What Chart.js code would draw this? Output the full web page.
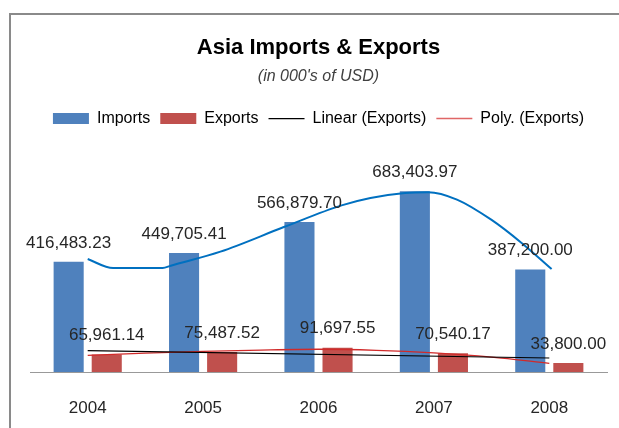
<!DOCTYPE html>
<html>
<head>
<meta charset="utf-8">
<script src="https://cdn.jsdelivr.net/npm/chart.js@4.4.1/dist/chart.umd.min.js"></script>
<style>
  body { margin: 0; background: #fff; }
  #frame { position: absolute; left: 9px; top: 13px; width: 640px; height: 440px; border: 2px solid #8a8a8a; }
  #wrap { position: absolute; left: 0; top: 0; width: 619px; height: 428px; }
</style>
</head>
<body>
<div id="frame"></div>
<div id="wrap"><canvas id="tradeChart"></canvas></div>
<script>
const years = ['2004', '2005', '2006', '2007', '2008'];
const imports = [416483.23, 449705.41, 566879.70, 683403.97, 387200.00];
const exports = [65961.14, 75487.52, 91697.55, 70540.17, 33800.00];

// trendlines (x = position of the year, 0 = 2004)
const importsPolyAt = [0, 0.22, 0.65, 0.72, 1.15, 1.7, 2.2, 2.45, 2.75, 2.95, 3.2, 3.5, 3.76, 4.02];
const importsPoly = [427000, 393000, 393000, 402000, 455000, 548000, 630000, 658000, 677000, 680000, 652000, 575000, 488000, 389000];
const exportsLinearAt = [0, 4];
const exportsLinear = [80500, 53000];
const exportsPolyAt = [0, 0.5, 1, 1.5, 2, 2.5, 3, 3.5, 4];
const exportsPoly = [63000, 71000, 78000, 83000, 86000, 82000, 72000, 56000, 33000];

const blue = '#4f81bd';
const red = '#c0504d';
const font = '"Liberation Sans", Arial, sans-serif';

const pts = (xs, ys) => xs.map((x, i) => ({ x: x, y: ys[i] }));
const yearIdx = years.map((y, i) => i);

const valueLabels = {
    id: 'valueLabels',
    afterDatasetsDraw(chart) {
        const ctx = chart.ctx;
        ctx.save();
        ctx.font = '17px ' + font;
        ctx.fillStyle = '#262626';
        ctx.textAlign = 'center';
        ctx.textBaseline = 'middle';
        [imports, exports].forEach((vals, i) => {
            chart.getDatasetMeta(i).data.forEach((bar, j) => {
                const txt = vals[j].toLocaleString('en-US', { minimumFractionDigits: 2, maximumFractionDigits: 2 });
                ctx.fillText(txt, bar.x, bar.y - 19);
            });
        });
        ctx.restore();
    }
};

const trend = { type: 'line', pointRadius: 0, order: 0 };

const ctx = document.getElementById('tradeChart').getContext('2d');
const chart = new Chart(ctx, {
    type: 'bar',
    data: {
        datasets: [
            { label: 'Imports', data: pts(yearIdx, imports), backgroundColor: blue, order: 2,
              categoryPercentage: 0.66, barPercentage: 0.79 },
            { label: 'Exports', data: pts(yearIdx, exports), backgroundColor: red, order: 2,
              categoryPercentage: 0.66, barPercentage: 0.79 },
            { ...trend, label: 'Poly. (Imports)', data: pts(importsPolyAt, importsPoly),
              borderColor: '#0070c0', borderWidth: 2, cubicInterpolationMode: 'monotone' },
            { ...trend, label: 'Linear (Exports)', data: pts(exportsLinearAt, exportsLinear),
              borderColor: '#000000', borderWidth: 1.2 },
            { ...trend, label: 'Poly. (Exports)', data: pts(exportsPolyAt, exportsPoly),
              borderColor: '#d02a2a', borderWidth: 1.3, cubicInterpolationMode: 'monotone' }
        ]
    },
    options: {
        responsive: true,
        maintainAspectRatio: false,
        animation: false,
        layout: { padding: { top: 35, left: 30, right: 12, bottom: 10 } },
        scales: {
            x: {
                type: 'linear', min: -0.5, max: 4.5, offset: false,
                grid: { display: false, drawTicks: false },
                border: { display: true, color: '#999999', width: 1 },
                afterBuildTicks: axis => { axis.ticks = yearIdx.map(i => ({ value: i })); },
                ticks: {
                    autoSkip: false, maxRotation: 0,
                    callback: v => years[v] || '',
                    color: '#262626', font: { family: font, size: 17 }, padding: 26
                }
            },
            y: { display: false, min: 0, max: 890000 }
        },
        plugins: {
            tooltip: { enabled: false },
            title: {
                display: true, text: 'Asia Imports & Exports', color: '#000000',
                font: { family: font, size: 22, weight: 'bold' }, padding: { top: 0, bottom: 0 }
            },
            subtitle: {
                display: true, text: "(in 000's of USD)", color: '#404040',
                font: { family: font, size: 16, style: 'italic' }, padding: { top: 6, bottom: 14 }
            },
            legend: {
                labels: {
                    color: '#262626',
                    font: { family: font, size: 16 },
                    usePointStyle: true,
                    pointStyleWidth: 36,
                    boxHeight: 11,
                    padding: 10,
                    generateLabels: () => [
                        { text: 'Imports', fillStyle: blue, strokeStyle: blue, lineWidth: 0, pointStyle: 'rect', hidden: false, datasetIndex: 0 },
                        { text: 'Exports', fillStyle: red, strokeStyle: red, lineWidth: 0, pointStyle: 'rect', hidden: false, datasetIndex: 1 },
                        { text: 'Linear (Exports)', fillStyle: '#000', strokeStyle: '#000000', lineWidth: 1.2, pointStyle: 'line', hidden: false, datasetIndex: 3 },
                        { text: 'Poly. (Exports)', fillStyle: '#e06666', strokeStyle: '#e06666', lineWidth: 1.5, pointStyle: 'line', hidden: false, datasetIndex: 4 }
                    ]
                }
            }
        }
    },
    plugins: [valueLabels]
});

// keep the baseline where the original axis sits (y = 372)
const pad = chart.options.layout.padding;
pad.bottom += chart.chartArea.bottom - 372;
chart.update('none');
</script>
</body>
</html>
